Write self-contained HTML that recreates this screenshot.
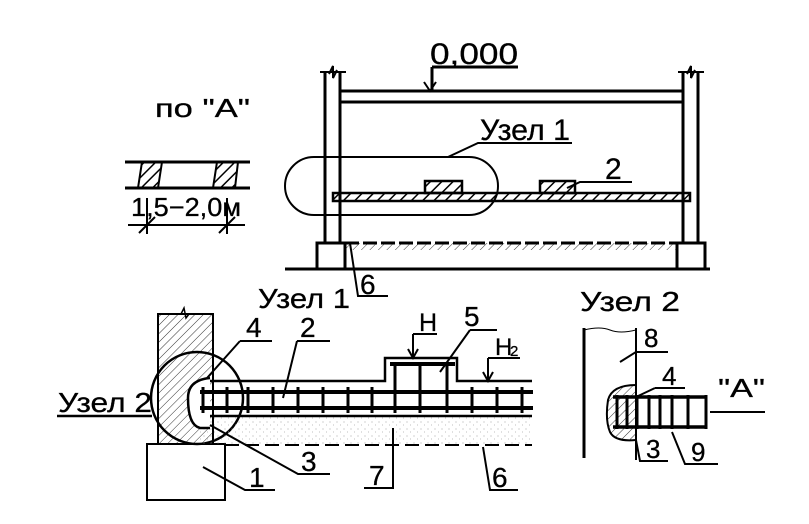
<!DOCTYPE html>
<html><head><meta charset="utf-8"><style>
html,body{margin:0;padding:0;background:#fff}
svg{display:block}
text{font-family:"Liberation Sans",sans-serif;fill:#000;stroke:#000;stroke-width:0.3}
</style></head><body>
<svg width="809" height="524" viewBox="0 0 809 524" xmlns="http://www.w3.org/2000/svg">
<defs>
<pattern id="h1" width="8" height="8" patternUnits="userSpaceOnUse" patternTransform="rotate(45)"><line x1="0" y1="0" x2="0" y2="8" stroke="#000" stroke-width="3"/></pattern>
<pattern id="h2" width="6" height="6" patternUnits="userSpaceOnUse" patternTransform="rotate(45)"><line x1="0" y1="0" x2="0" y2="6" stroke="#000" stroke-width="0.8"/></pattern>
<pattern id="dots" width="7" height="7" patternUnits="userSpaceOnUse"><circle cx="1" cy="2" r="0.5" fill="#888"/><circle cx="4.5" cy="5" r="0.5" fill="#aaa"/></pattern>
</defs>
<g stroke="#000" fill="none" stroke-width="3">
<text x="430" y="64" font-size="30" textLength="88" lengthAdjust="spacingAndGlyphs">0,000</text>
<path d="M432 67H518M432 67V91"/>
<path d="M424 82L430 91L436 82" stroke-width="2"/>
<path d="M325 72V243M340 72V243M683 72V243M698 72V243"/>
<path d="M320 72H346M678 72H704M329 74L333 66L333 78L337 70M687 74L691 66L691 78L695 70" stroke-width="2"/>
<path d="M340 91H683"/>
<path d="M340 102H683"/>
<rect x="333" y="193" width="357" height="8" fill="url(#h1)" stroke-width="2.5"/>
<rect x="425" y="181" width="37" height="12" fill="url(#h1)" stroke-width="2.5"/>
<rect x="540" y="181" width="35" height="12" fill="url(#h1)" stroke-width="2.5"/>
<rect x="285" y="157" width="213" height="58" rx="29" stroke-width="2"/>
<path d="M448 157L478 143H572" stroke-width="2"/>
<text x="480" y="140" font-size="30" textLength="90" lengthAdjust="spacingAndGlyphs">Узел 1</text>
<path d="M567 188L580 182H632" stroke-width="2"/>
<text x="605" y="179" font-size="30">2</text>
<rect x="317" y="243" width="28" height="26"/>
<rect x="677" y="243" width="28" height="26"/>
<rect x="345" y="243" width="332" height="7" fill="url(#h2)" stroke="none"/>
<path d="M345 243H677" stroke-dasharray="14 4"/>
<path d="M285 269H710"/>
<path d="M350 243L358 296H388" stroke-width="2"/>
<text x="360" y="294" font-size="28">6</text>
<text x="155" y="117" font-size="26" textLength="95" lengthAdjust="spacingAndGlyphs">по "А"</text>
<path d="M125 162H250M125 188H250"/>
<path d="M142 162H162L158 188H138Z" fill="url(#h1)" stroke-width="2"/>
<path d="M217 162H238L235 188H213Z" fill="url(#h1)" stroke-width="2"/>
<text x="131" y="216" font-size="26" textLength="110" lengthAdjust="spacingAndGlyphs">1,5−2,0м</text>
<path d="M128 225H245M147 198V234M227 198V234M139 233L155 217M219 233L235 217" stroke-width="2"/>
<text x="258" y="308" font-size="28" textLength="92" lengthAdjust="spacingAndGlyphs">Узел 1</text>
<rect x="158" y="314" width="55" height="130" fill="url(#h2)" stroke-width="2"/>
<path d="M181 314L184 308L186 318L189 314" stroke-width="1.5"/>
<rect x="147" y="444" width="78" height="56" stroke-width="2"/>
<circle cx="197" cy="398" r="46" stroke-width="2.5"/>
<path d="M200 381H385V358H457V381H532M200 416H532" stroke-width="2.5"/>
<rect x="200" y="416" width="332" height="29" fill="url(#dots)" stroke="none"/>
<path d="M225 445H532" stroke-dasharray="14 6" stroke-width="2"/>
<path d="M210 378Q188 380 188 398Q188 425 200 428H210" fill="#fff" stroke-width="2.5"/>
<path d="M200 392H533M200 408H533" stroke-width="4"/>
<path d="M390 364H455" stroke-width="4"/>
<path d="M203 387V413M227 387V413M248 387V413M273 387V413M298 387V413M323 387V413M348 387V413M372 387V413M472 387V413M497 387V413M522 387V413"/>
<path d="M395 362V413M420 362V413M447 362V413"/>
<path d="M240 341H272M240 341L207 378" stroke-width="2"/>
<text x="246" y="337" font-size="28">4</text>
<path d="M297 341H330M297 341L283 398" stroke-width="2"/>
<text x="300" y="337" font-size="28">2</text>
<path d="M413 334H437M413 334V356" stroke-width="2"/>
<path d="M408 349L413 358L418 349" stroke-width="2"/>
<text x="419" y="331" font-size="25">Н</text>
<path d="M470 330H497M470 330L440 372" stroke-width="2"/>
<text x="464" y="326" font-size="28">5</text>
<path d="M488 358H520M488 358V379" stroke-width="2"/>
<path d="M483 372L488 381L493 372" stroke-width="2"/>
<text x="495" y="355" font-size="24">Н</text>
<text x="510" y="356" font-size="15">2</text>
<text x="58" y="412" font-size="28" textLength="94" lengthAdjust="spacingAndGlyphs">Узел 2</text>
<path d="M57 416H152" stroke-width="2.5"/>
<path d="M210 425L298 474H330" stroke-width="2"/>
<text x="301" y="471" font-size="28">3</text>
<path d="M203 467L245 490H275" stroke-width="2"/>
<text x="249" y="487" font-size="28">1</text>
<path d="M393 428V488H364" stroke-width="2"/>
<text x="369" y="485" font-size="28">7</text>
<path d="M483 447L490 490H518" stroke-width="2"/>
<text x="492" y="487" font-size="28">6</text>
<text x="580" y="311" font-size="28" textLength="100" lengthAdjust="spacingAndGlyphs">Узел 2</text>
<path d="M584 328V458" stroke-width="3"/>
<path d="M636 328V460" stroke-width="2"/>
<path d="M584 330Q600 326 610 330T636 330" stroke-width="1"/>
<path d="M636 352H668M636 352L620 362" stroke-width="2"/>
<text x="644" y="347" font-size="26">8</text>
<path d="M636 385Q612 385 608 400Q605 420 610 432Q615 442 636 440" fill="url(#h2)" stroke-width="2"/>
<path d="M613 397H707M613 427H707" stroke-width="3.5"/>
<path d="M617 395V429M627 395V429M637 395V429M649 395V429M660 395V429M672 395V429M688 395V429M706 395V429" stroke-width="3"/>
<path d="M655 388H685M655 388L636 397" stroke-width="2"/>
<text x="662" y="385" font-size="26">4</text>
<text x="718" y="397" font-size="26" textLength="47" lengthAdjust="spacingAndGlyphs">"А"</text>
<path d="M710 412H765" stroke-width="2"/>
<path d="M636 440L640 461H668" stroke-width="2"/>
<text x="646" y="458" font-size="26">3</text>
<path d="M672 432L685 464H718" stroke-width="2"/>
<text x="691" y="461" font-size="26">9</text>
</g>
</svg>
</body></html>
